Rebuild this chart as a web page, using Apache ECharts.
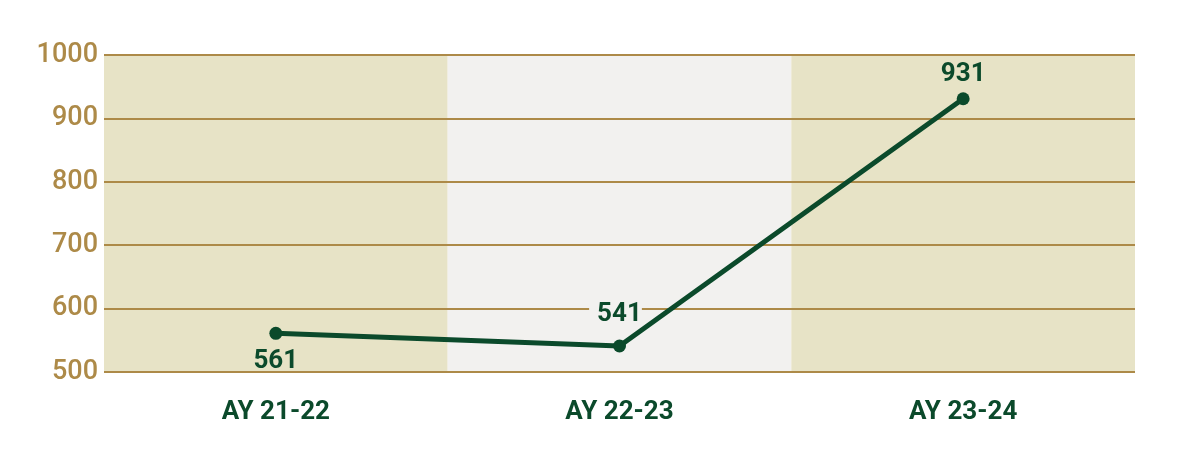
<!DOCTYPE html>
<html><head><meta charset="utf-8">
<script src="https://cdn.jsdelivr.net/npm/echarts@6/dist/echarts.min.js"></script>
<style>html,body{margin:0;padding:0;background:#fff}#c{width:1201px;height:459px}</style>
</head><body><div id="c"></div>
<script>
const categories = ['AY 21-22', 'AY 22-23', 'AY 23-24'];
const values = [561, 541, 931];
const labelPositions = ['bottom', 'top', 'top'];
const yMin = 500, yMax = 1000, yInterval = 100;

const green = '#0b4a2b';
const gold = '#ad8a48';
const distances = [7, 14, 3];
const chart = echarts.init(document.getElementById('c'));
chart.setOption({
  animation: false,
  grid: { left: 104, right: 66, top: 55, bottom: 87 },
  xAxis: {
    type: 'category', data: categories, z: 0,
    axisLine: { show: false }, axisTick: { show: false },
    axisLabel: { color: green, fontFamily: 'Roboto', fontWeight: 'bold', fontSize: 26, margin: 27 },
    splitArea: { show: true, areaStyle: { color: ['#e7e3c6', '#f2f1ef'] } }
  },
  yAxis: {
    type: 'value', min: yMin, max: yMax, interval: yInterval, z: 3,
    axisLine: { show: false }, axisTick: { show: false },
    axisLabel: { color: gold, fontFamily: 'Roboto', fontWeight: 500, fontSize: 27, margin: 6,
      formatter: v => String(v) },
    splitLine: { lineStyle: { color: gold, width: 2 } }
  },
  series: [{
    type: 'line', data: values.map((v, i) => ({
      value: v,
      label: {
        position: labelPositions[i],
        distance: distances[i],
        lineHeight: i === 1 ? 22 : 30,
        backgroundColor: i === 1 ? '#f2f1ef' : 'transparent',
        padding: i === 1 ? [0, 0, 0, 8] : 0,
        offset: i === 1 ? [-4, 0] : [0, 0]
      }
    })),
    symbol: 'circle', symbolSize: 13,
    lineStyle: { color: green, width: 5 },
    itemStyle: { color: green },
    label: { show: true, color: green, fontFamily: 'Roboto', fontWeight: 'bold', fontSize: 26 },
    z: 5
  }]
});
</script></body></html>
